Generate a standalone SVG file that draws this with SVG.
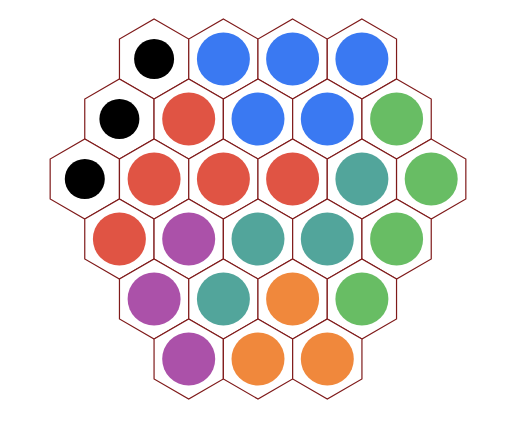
<svg xmlns="http://www.w3.org/2000/svg" width="514" height="425" viewBox="0 0 514 425">
<style>
.h{fill:#fff;stroke:#7f1a1a;stroke-width:1.2}
.k{fill:#000}
.b{fill:#3a79f2}
.r{fill:#e05444}
.g{fill:#68bd64}
.t{fill:#52a59b}
.p{fill:#ab51a9}
.o{fill:#f0883c}
</style>
<defs>
<polygon id="hex" points="0,-40 34.64,-20 34.64,20 0,40 -34.64,20 -34.64,-20"/>
</defs>
<rect width="514" height="425" fill="#fff"/>
<g id="row0">
<g id="c0_0" transform="translate(154.1,59)"><use href="#hex" class="h"/><circle r="20" class="k"/></g>
<g id="c0_1" transform="translate(223.4,59)"><use href="#hex" class="h"/><circle r="26.5" class="b"/></g>
<g id="c0_2" transform="translate(292.6,59)"><use href="#hex" class="h"/><circle r="26.5" class="b"/></g>
<g id="c0_3" transform="translate(361.9,59)"><use href="#hex" class="h"/><circle r="26.5" class="b"/></g>
</g>
<g id="row1">
<g id="c1_0" transform="translate(119.4,119)"><use href="#hex" class="h"/><circle r="20" class="k"/></g>
<g id="c1_1" transform="translate(188.7,119)"><use href="#hex" class="h"/><circle r="26.5" class="r"/></g>
<g id="c1_2" transform="translate(258,119)"><use href="#hex" class="h"/><circle r="26.5" class="b"/></g>
<g id="c1_3" transform="translate(327.3,119)"><use href="#hex" class="h"/><circle r="26.5" class="b"/></g>
<g id="c1_4" transform="translate(396.6,119)"><use href="#hex" class="h"/><circle r="26.5" class="g"/></g>
</g>
<g id="row2">
<g id="c2_0" transform="translate(84.8,179)"><use href="#hex" class="h"/><circle r="20" class="k"/></g>
<g id="c2_1" transform="translate(154.1,179)"><use href="#hex" class="h"/><circle r="26.5" class="r"/></g>
<g id="c2_2" transform="translate(223.4,179)"><use href="#hex" class="h"/><circle r="26.5" class="r"/></g>
<g id="c2_3" transform="translate(292.6,179)"><use href="#hex" class="h"/><circle r="26.5" class="r"/></g>
<g id="c2_4" transform="translate(361.9,179)"><use href="#hex" class="h"/><circle r="26.5" class="t"/></g>
<g id="c2_5" transform="translate(431.2,179)"><use href="#hex" class="h"/><circle r="26.5" class="g"/></g>
</g>
<g id="row3">
<g id="c3_0" transform="translate(119.4,239)"><use href="#hex" class="h"/><circle r="26.5" class="r"/></g>
<g id="c3_1" transform="translate(188.7,239)"><use href="#hex" class="h"/><circle r="26.5" class="p"/></g>
<g id="c3_2" transform="translate(258,239)"><use href="#hex" class="h"/><circle r="26.5" class="t"/></g>
<g id="c3_3" transform="translate(327.3,239)"><use href="#hex" class="h"/><circle r="26.5" class="t"/></g>
<g id="c3_4" transform="translate(396.6,239)"><use href="#hex" class="h"/><circle r="26.5" class="g"/></g>
</g>
<g id="row4">
<g id="c4_0" transform="translate(154.1,299)"><use href="#hex" class="h"/><circle r="26.5" class="p"/></g>
<g id="c4_1" transform="translate(223.4,299)"><use href="#hex" class="h"/><circle r="26.5" class="t"/></g>
<g id="c4_2" transform="translate(292.6,299)"><use href="#hex" class="h"/><circle r="26.5" class="o"/></g>
<g id="c4_3" transform="translate(361.9,299)"><use href="#hex" class="h"/><circle r="26.5" class="g"/></g>
</g>
<g id="row5">
<g id="c5_0" transform="translate(188.7,359)"><use href="#hex" class="h"/><circle r="26.5" class="p"/></g>
<g id="c5_1" transform="translate(258,359)"><use href="#hex" class="h"/><circle r="26.5" class="o"/></g>
<g id="c5_2" transform="translate(327.3,359)"><use href="#hex" class="h"/><circle r="26.5" class="o"/></g>
</g>
</svg>
